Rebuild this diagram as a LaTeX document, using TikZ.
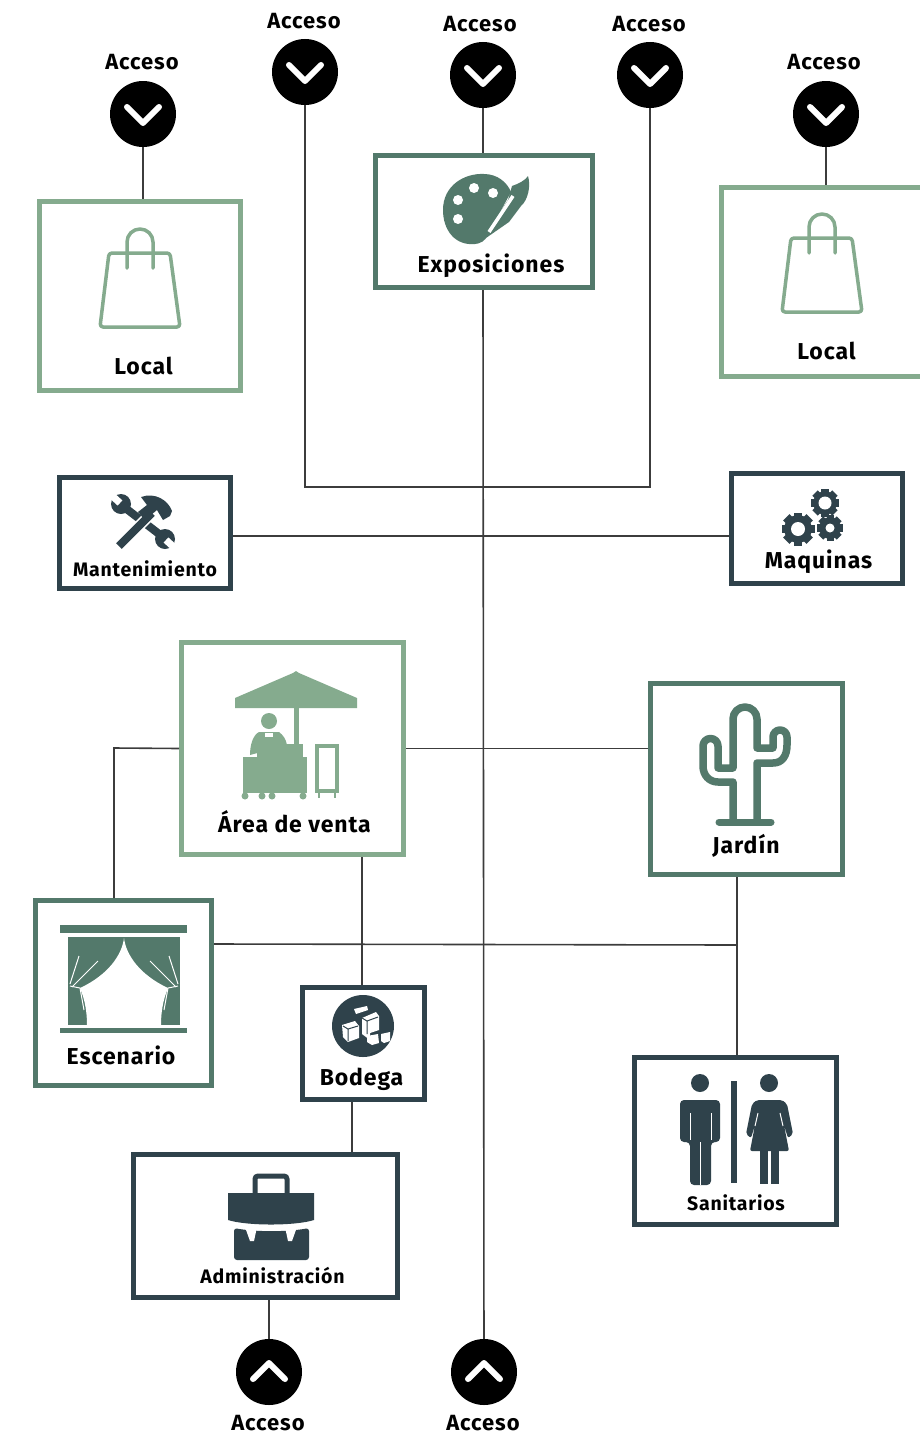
\documentclass[tikz,border=0pt]{standalone}
\usepackage{fontspec}
\setmainfont[LetterSpace=4]{Fira Sans}
\definecolor{greenLight}{HTML}{85AB8E}
\definecolor{greenMid}{HTML}{53796B}
\definecolor{slateDark}{HTML}{2F424B}
\definecolor{lineGray}{HTML}{3C3C3C}
\tikzstyle{boxLight}=[draw=greenLight,line width=5pt,fill=white,inner sep=0pt]
\tikzstyle{boxMid}=[draw=greenMid,line width=5pt,fill=white,inner sep=0pt]
\tikzstyle{boxDark}=[draw=slateDark,line width=5pt,fill=white,inner sep=0pt]
\tikzstyle{accessCircle}=[circle,fill=black,minimum size=66pt,inner sep=0pt]
\tikzstyle{accessText}=[font=\fontsize{22}{22}\selectfont\bfseries,inner sep=0pt]
\tikzstyle{boxText}=[font=\fontsize{23}{23}\selectfont\bfseries,inner sep=0pt]
\tikzstyle{smallText}=[font=\fontsize{19.5}{20}\selectfont\bfseries,inner sep=0pt]
\tikzstyle{connLine}=[draw=lineGray,line width=1.6pt]
\tikzstyle{chevronLine}=[draw=white,line width=6pt,line cap=round,line join=round]
\tikzstyle{bagLine}=[draw=greenLight,line width=3.5pt,line cap=round,line join=round]
\tikzset{
	bagIcon/.pic={
		\draw[bagLine,rounded corners=3pt] (-31,24) -- (30,24) -- (40,98) -- (-40,98) -- cycle;
		\draw[bagLine] (-13,39) -- (-13,13) arc[start angle=180,end angle=360,radius=13] -- (13,39);
	}
}
\newcommand{\gearIcon}[3]{
	\begin{scope}[shift={#1}]
		\foreach \a in {0,45,...,315}
			\fill[slateDark,rotate=\a] (-#2*0.27,0) rectangle (#2*0.27,-#2);
		\fill[slateDark] (0,0) circle[radius=#2*0.84];
		\fill[white] (0,0) circle[radius=#3];
	\end{scope}
}

\begin{document}
\begin{tikzpicture}[x=1pt,y=-1pt]
	\useasboundingbox (0,0) rectangle (919,1437);

	\node[boxLight, minimum width=201pt, minimum height=189pt] (localA) at (140,296) {};
	\node[boxLight, minimum width=201pt, minimum height=189pt] (localB) at (822,282) {};
	\node[boxMid, minimum width=217pt, minimum height=132pt] (expo) at (484,221.5) {};
	\node[boxDark, minimum width=171pt, minimum height=111pt] (mant) at (145,533) {};
	\node[boxDark, minimum width=171pt, minimum height=110pt] (maqu) at (817,528.5) {};
	\node[boxLight, minimum width=222pt, minimum height=212pt] (area) at (292.5,748.5) {};
	\node[boxMid, minimum width=192pt, minimum height=191pt] (jard) at (746.5,779) {};
	\node[boxMid, minimum width=176pt, minimum height=185pt] (esce) at (123.5,993) {};
	\node[boxDark, minimum width=122pt, minimum height=112pt] (bode) at (363.5,1043.5) {};
	\node[boxDark, minimum width=202pt, minimum height=167pt] (sani) at (735.5,1141) {};
	\node[boxDark, minimum width=264pt, minimum height=143pt] (admi) at (265.5,1226) {};

	\node[accessCircle] (acc1) at (143,114) {};
	\node[accessCircle] (acc2) at (305,72) {};
	\node[accessCircle] (acc3) at (483,75) {};
	\node[accessCircle] (acc4) at (650,75) {};
	\node[accessCircle] (acc5) at (826,114) {};
	\node[accessCircle] (acc6) at (269,1372) {};
	\node[accessCircle] (acc7) at (484,1372) {};

	\foreach \n in {acc1,acc2,acc3,acc4,acc5}
		\draw[chevronLine] ([shift={(-16,-7)}]\n.center) -- ([shift={(0,9)}]\n.center) -- ([shift={(16,-7)}]\n.center);
	\foreach \n in {acc6,acc7}
		\draw[chevronLine] ([shift={(-16,7)}]\n.center) -- ([shift={(0,-9)}]\n.center) -- ([shift={(16,7)}]\n.center);

	\node[accessText] (lab1) at (142,62) {Acceso};
	\node[accessText] (lab2) at (304,21) {Acceso};
	\node[accessText] (lab3) at (480,24) {Acceso};
	\node[accessText] (lab4) at (649,24) {Acceso};
	\node[accessText] (lab5) at (824,62) {Acceso};
	\node[accessText] (lab6) at (268,1423) {Acceso};
	\node[accessText] (lab7) at (483,1423) {Acceso};

	\node[boxText] (txtLocalA) at (143.5,366) {Local};
	\node[boxText] (txtLocalB) at (826.5,351) {Local};
	\node[boxText] (txtExpo) at (491,266) {Exposiciones};
	\node[smallText] (txtMant) at (145,569) {Mantenimiento};
	\node[boxText] (txtMaqu) at (818.5,562) {Maquinas};
	\node[boxText] (txtArea) at (294.5,822) {Área de venta};
	\node[boxText] (txtJard) at (746,846) {Jardín};
	\node[boxText] (txtEsce) at (121,1055) {Escenario};
	\node[boxText] (txtBode) at (361.5,1079) {Bodega};
	\node[smallText] (txtSani) at (736,1203) {Sanitarios};
	\node[smallText] (txtAdmi) at (272.5,1276) {Administración};

	% access lines
	\coordinate (bendA) at (305,487);
	\coordinate (bendB) at (650,487);
	\coordinate (bendE) at (114,748);
	\coordinate (bendJ) at (737,945);
	\draw[connLine] (acc1) -- (acc1 |- localA.north);
	\draw[connLine] (acc5) -- (acc5 |- localB.north);
	\draw[connLine] (acc3) -- (acc3 |- expo.north);
	\draw[connLine] (acc2) -- (bendA) -- (bendB) -- (acc4);
	\draw[connLine] (expo.south -| acc3) -- (acc7);
	\draw[connLine] (mant.east |- 0,536) -- (maqu.west |- 0,536);

	% lines between rooms
	\draw[connLine] (area.east) -- (area.east -| jard.west);
	\draw[connLine] (area.west) -- (bendE) -- (bendE |- esce.north);
	\draw[connLine] (area.south -| 362,0) -- (bode.north -| 362,0);
	\draw[connLine] (esce.east |- 0,944) -- (bendJ);
	\draw[connLine] (jard.south -| bendJ) -- (sani.north -| bendJ);
	\draw[connLine] (bode.south -| 352,0) -- (admi.north -| 352,0);
	\draw[connLine] (admi.south -| acc6) -- (acc6);

	% bags
	\pic at (140,229) {bagIcon};
	\pic at (822,214) {bagIcon};

	% palette
	\fill[greenMid] (443,210) .. controls (443,185) and (465,173) .. (484,174)
		.. controls (497,174) and (507,182) .. (511,192) -- (487,236)
		.. controls (486,240) and (480,244) .. (475,244)
		.. controls (455,246) and (443,230) .. (443,210) -- cycle;
	\fill[greenMid] (512,186) .. controls (518,184) and (526,180) .. (528,176)
		.. controls (531,186) and (528,200) .. (521,206)
		-- (509,222) -- (486,238) -- (485,234) -- (508,200) -- cycle;
	\draw[white,line width=3.5pt] (513,196) -- (489,232);
	\fill[white] (458,200) circle[radius=5];
	\fill[white] (474,188) circle[radius=5];
	\fill[white] (493,193) circle[radius=5];
	\fill[white] (458,219) circle[radius=5];

	% tools
	\draw[slateDark,line width=8pt] (124,507) -- (163,537);
	\fill[slateDark] (121,504) circle[radius=10];
	\fill[slateDark] (165,539) circle[radius=10];
	\draw[white,line width=7pt] (120,503) -- (108,492);
	\draw[white,line width=7pt] (166,540) -- (178,551);
	\draw[white,line width=11pt] (128,537) -- (150,515);
	\draw[slateDark,line width=8pt] (119,546) -- (152,513);
	\fill[slateDark] (141,497) .. controls (155,492) and (168,500) .. (172,511) -- (170,516)
		-- (163,520) -- (157,510) -- (145,520) -- (138,512) -- (147,505) -- cycle;

	% gears
	\gearIcon{(798,529)}{16.5}{7}
	\gearIcon{(825,503)}{14}{6.5}
	\gearIcon{(830,528)}{13}{4.5}

	% stall
	\fill[greenLight] (235,698) -- (293,673) -- (296,671) -- (299,673) -- (357,698)
		-- (357,708) -- (235,708) -- cycle;
	\fill[greenLight] (294,708) rectangle (299,745);
	\fill[greenLight] (269,721) circle[radius=8];
	\fill[greenLight] (250,755) .. controls (250,745) and (253,735) .. (259,732)
		-- (279,732) .. controls (283,735) and (286,739) .. (287,745) -- cycle;
	\fill[greenLight] (257,744) rectangle (303,757);
	\fill[greenLight] (243,757) rectangle (307,793);
	\fill[white] (265,733) rectangle (273,737);
	\foreach \x in {245,262,272,303}
		\fill[greenLight] (\x,796) circle[radius=3.5];
	\draw[greenLight,line width=3.5pt] (317,746) rectangle (337,791);
	\draw[greenLight,line width=2.5pt] (319,791) -- (319,798) (335,791) -- (335,798);

	% cactus
	\draw[greenMid,line width=7.5pt,line join=round] (733,822) -- (733,782) -- (718,782)
		.. controls (709,782) and (703,775) .. (703,766) -- (703,746)
		arc[start angle=180,end angle=360,radius=7.5] -- (718,768) -- (733,768) -- (733,719)
		arc[start angle=180,end angle=360,radius=12] -- (757,748) -- (773,748) -- (773,737)
		arc[start angle=180,end angle=360,radius=7] -- (787,745)
		.. controls (787,756) and (782,763) .. (773,763) -- (757,763) -- (757,822);
	\draw[greenMid,line width=7pt,line cap=round] (719,822) -- (771,822);

	% curtain
	\fill[greenMid] (60,925) rectangle (187,933);
	\fill[greenMid] (60,1028) rectangle (187,1033);
	\fill[greenMid] (68,937) rectangle (180,1025);
	\fill[white] (124,938) .. controls (122,955) and (108,975) .. (80,988)
		.. controls (85,1000) and (87,1012) .. (87,1025) -- (161,1025)
		.. controls (161,1012) and (163,1000) .. (168,988)
		.. controls (140,975) and (126,955) .. (124,938) -- cycle;
	\draw[white,line width=1pt] (70,984) -- (79,956) (72,987) -- (98,961) (70,986) -- (80,988) -- (84,1010);
	\draw[white,line width=1pt] (178,984) -- (169,956) (176,987) -- (150,961) (178,986) -- (168,988) -- (164,1010);

	% boxes
	\fill[slateDark] (363,1026) circle[radius=31];
	\fill[white] (342,1025) -- (355,1021) -- (359,1026) -- (359,1038) -- (348,1042) -- (343,1037) -- cycle;
	\fill[white] (362,1018) -- (376,1012) -- (379,1016) -- (379,1030) -- (370,1033) -- (370,1040) -- (362,1034) -- cycle;
	\fill[white] (354,1009) -- (367,1006) -- (368,1010) -- (356,1014) -- cycle;
	\fill[white] (367,1036) -- (378,1034) -- (379,1043) -- (372,1045) -- (367,1042) -- cycle;
	\fill[white] (381,1034) -- (390,1032) -- (390,1041) -- (384,1043) -- (381,1041) -- cycle;
	\draw[slateDark,line width=1pt] (348,1029) -- (348,1041) (343,1026) -- (348,1029) -- (358,1026)
		(367,1021) -- (367,1034) (362,1018) -- (367,1021) -- (378,1017);

	% people
	\fill[slateDark] (700,1083) circle[radius=9];
	\fill[slateDark,rounded corners=4pt] (680,1142) -- (680,1100) -- (720,1100) -- (720,1142) -- (711,1142)
		-- (711,1185) -- (690,1185) -- (690,1142) -- cycle;
	\draw[white,line width=1pt] (690,1113) -- (690,1140) (711,1113) -- (711,1140) (700.5,1142) -- (700.5,1185);
	\fill[slateDark] (731,1081) rectangle (737,1183);
	\fill[slateDark] (769,1083) circle[radius=9];
	\fill[slateDark,rounded corners=2pt] (757,1100) -- (782,1100) -- (787,1104) -- (793,1134) -- (788,1138)
		-- (784,1125) -- (789,1151) -- (750,1151) -- (755,1125) -- (751,1138) -- (746,1134) -- (752,1104) -- cycle;
	\draw[white,line width=1pt] (758,1113) -- (755,1126) (780,1113) -- (783,1126);
	\fill[slateDark] (760,1150) rectangle (768,1184);
	\fill[slateDark] (771,1150) rectangle (779,1184);

	% briefcase
	\draw[slateDark,line width=5pt,rounded corners=3pt] (255,1194) -- (255,1176) -- (287,1176) -- (287,1194);
	\fill[slateDark] (228,1193) -- (314,1193) -- (314,1220) .. controls (295,1226) and (247,1226) .. (228,1220) -- cycle;
	\fill[slateDark,rounded corners=3pt] (234,1228) .. controls (255,1232) and (288,1232) .. (309,1228)
		-- (309,1260) -- (234,1260) -- cycle;
	\fill[white] (245,1227) -- (257,1227) -- (254,1241) -- (250,1241) -- cycle;
	\fill[white] (285,1227) -- (297,1227) -- (292,1241) -- (288,1241) -- cycle;
\end{tikzpicture}
\end{document}
